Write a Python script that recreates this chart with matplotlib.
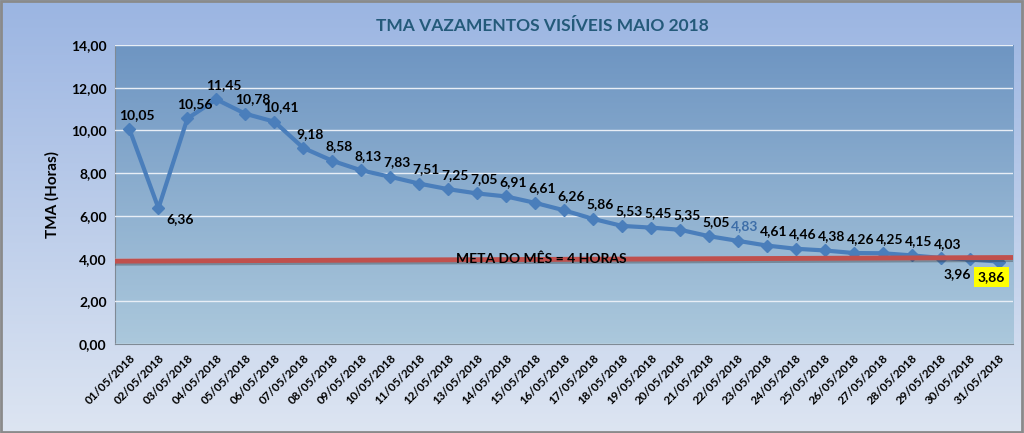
import numpy as np
import matplotlib.pyplot as plt
from matplotlib.colors import LinearSegmentedColormap
import matplotlib.patheffects as pe

plt.rcParams['font.family'] = ['Lato', 'DejaVu Sans']
plt.rcParams['font.weight'] = 'bold'

# dados
dias = ['%02d/05/2018' % d for d in range(1, 32)]
tma = [10.05, 6.36, 10.56, 11.45, 10.78, 10.41, 9.18, 8.58, 8.13, 7.83,
       7.51, 7.25, 7.05, 6.91, 6.61, 6.26, 5.86, 5.53, 5.45, 5.35,
       5.05, 4.83, 4.61, 4.46, 4.38, 4.26, 4.25, 4.15, 4.03, 3.96, 3.86]
meta = 4
yticks = [0, 2, 4, 6, 8, 10, 12, 14]


def fmt(v):
    return ('%.2f' % v).replace('.', ',')


fig = plt.figure(figsize=(10.24, 4.33), dpi=100)

# fundo do grafico (degrade)
bg = fig.add_axes([0, 0, 1, 1], zorder=-10)
cm_bg = LinearSegmentedColormap.from_list('bg', ['#dde5f2', '#9bb5e2'])
bg.imshow(np.linspace(0, 1, 256).reshape(-1, 1), cmap=cm_bg, aspect='auto',
          origin='lower', extent=[0, 1, 0, 1])
bg.set_xlim(0, 1)
bg.set_ylim(0, 1)
bg.axis('off')
bg.add_patch(plt.Rectangle((0.001, 0.002), 0.997, 0.995, fill=False,
                           ec='#8a8a8a', lw=2))

ax = fig.add_axes([0.1123, 0.2055, 0.877, 0.6906])
x = np.arange(len(dias))
ax.set_xlim(-0.5, len(dias) - 0.5)
ax.set_ylim(0, 14)

cm_pl = LinearSegmentedColormap.from_list('pl', ['#abc8dc', '#6e95c2'])
ax.imshow(np.linspace(0, 1, 256).reshape(-1, 1), cmap=cm_pl, aspect='auto',
          origin='lower', extent=[-0.5, len(dias) - 0.5, 0, 14], zorder=0)

ax.set_yticks(yticks)
ax.set_yticklabels([fmt(v) for v in yticks], fontsize=10, fontweight='bold')
ax.yaxis.grid(True, color='#e8eef6', lw=1)
ax.set_axisbelow(False)
for gl in ax.get_ygridlines():
    gl.set_zorder(1)
ax.tick_params(axis='both', length=0, pad=6)
ax.set_xticks(x)
ax.set_xticklabels(dias, rotation=45, ha='right', rotation_mode='anchor',
                   fontsize=8.5, fontweight='bold')
for s in ax.spines.values():
    s.set_color('#7f8a95')
ax.spines['top'].set_visible(False)
ax.spines['right'].set_visible(False)

ax.plot(x, tma, color='#4a7ebb', lw=3, marker='D', ms=6, zorder=3)

# linha da meta
ax.plot([-0.5, len(dias) - 0.5], [meta - 0.12, meta + 0.05], color='#c0504d',
        lw=3.5, zorder=4, solid_capstyle='butt',
        path_effects=[pe.SimpleLineShadow(offset=(0, -1.5), shadow_color='#303030',
                                          alpha=0.35), pe.Normal()])
ax.text(14.2, meta, 'META DO MÊS = 4 HORAS', ha='center', va='center',
        fontsize=10, fontweight='bold', color='black', zorder=5)

for i, v in enumerate(tma):
    cor = '#3d6ea8' if i == 21 else 'black'
    if i == 1:
        ax.annotate(fmt(v), (i, v), xytext=(6, -8), textcoords='offset points',
                    ha='left', va='center', fontsize=10, fontweight='bold')
    elif i == 29:
        ax.annotate(fmt(v), (i, v), xytext=(-9, -6), textcoords='offset points',
                    ha='center', va='top', fontsize=10, fontweight='bold')
    elif i == 30:
        ax.annotate(fmt(v), (i, v), xytext=(-5, -7), textcoords='offset points',
                    ha='center', va='top', fontsize=10, fontweight='bold',
                    bbox=dict(boxstyle='square,pad=0.3', fc='#ffff00', ec='none'))
    else:
        ax.annotate(fmt(v), (i, v), xytext=(5, 6), textcoords='offset points',
                    ha='center', va='bottom', fontsize=10, fontweight='bold',
                    color=cor, zorder=6)

ax.set_ylabel('TMA (Horas)', fontsize=11, fontweight='bold', labelpad=8)
fig.text(0.530, 0.940, 'TMA VAZAMENTOS VISÍVEIS MAIO 2018', ha='center',
         va='center', fontsize=12.5, fontweight='bold', color='#245a7a')

fig.savefig('out.png', dpi=100)
